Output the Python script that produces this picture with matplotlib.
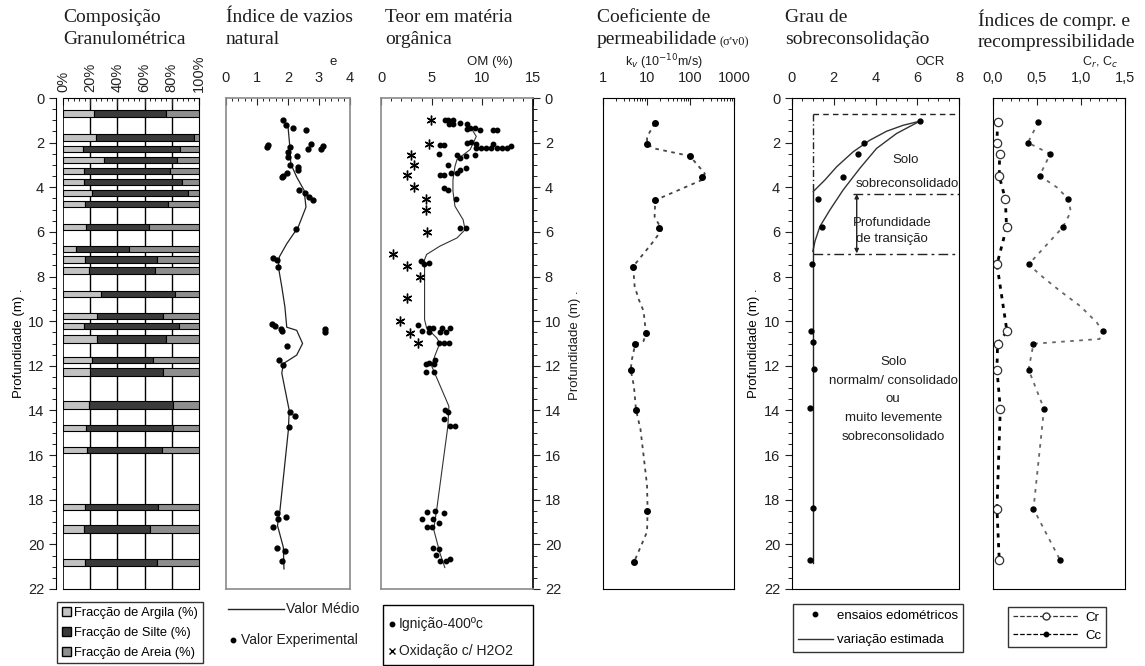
import matplotlib
matplotlib.use('Agg')
import matplotlib.pyplot as plt
import numpy as np
from matplotlib.ticker import MultipleLocator, NullFormatter, LogLocator
from matplotlib.patches import Patch, Rectangle
from matplotlib.lines import Line2D

plt.rcParams['font.family'] = ['Liberation Sans', 'DejaVu Sans']
plt.rcParams['font.size'] = 10

# ---------------- data ----------------
# Panel 1: grain size composition
gran_top = [0.55, 1.63, 2.13, 2.66, 3.12, 3.63, 4.13, 4.61, 5.66, 6.61, 7.09, 7.57, 8.65, 9.63,
            10.09, 10.60, 11.62, 12.12, 13.58, 14.63, 15.64, 18.17, 19.14, 20.65]
gran_thk = [0.28, 0.28, 0.27, 0.27, 0.27, 0.27, 0.27, 0.27, 0.27, 0.29, 0.29, 0.30, 0.27, 0.27,
            0.28, 0.37, 0.27, 0.33, 0.34, 0.27, 0.27, 0.30, 0.33, 0.33]
clay = [22.9, 24.6, 14.7, 30.2, 15.5, 15.5, 21.4, 16.5, 16.7, 9.3, 16.2, 18.9, 28.3, 25.1,
        15.5, 25.3, 21.1, 20.1, 18.9, 17.2, 17.9, 16.5, 15.2, 16.2]
silt = [52.5, 72.0, 71.3, 53.8, 63.1, 71.7, 70.2, 60.4, 46.4, 39.1, 53.1, 48.4, 54.0, 48.1,
        69.8, 50.1, 45.2, 53.1, 62.2, 63.4, 54.6, 53.5, 48.7, 53.1]
sand = [24.6, 3.4, 14.0, 16.0, 21.4, 12.8, 8.4, 23.1, 36.9, 51.6, 30.7, 32.7, 17.7, 26.8,
        14.7, 24.6, 33.7, 26.8, 18.9, 19.4, 27.5, 30.0, 36.1, 30.7]
gran_ticks = ['0%', '20%', '40%', '60%', '80%', '100%']

# Panel 2: natural void ratio
e_exp = [1.85, 1.94, 2.15, 2.58, 1.37, 1.31, 2.73, 2.66, 3.14, 3.05, 2.06, 2.0, 2.0, 2.3, 2.06,
         2.33, 2.33, 1.96, 1.85, 1.8, 2.34, 2.54, 2.67, 2.82, 2.26, 1.51, 1.66, 1.67, 1.47, 1.58,
         1.77, 3.19, 1.80, 3.19, 1.96, 1.71, 1.83, 2.06, 2.23, 2.04, 1.66, 1.94, 1.69, 1.51, 1.64,
         1.91, 1.80]
e_exp_d = [0.97, 1.22, 1.33, 1.45, 2.12, 2.2, 2.05, 2.3, 2.15, 2.27, 2.2, 2.42, 2.64, 2.61, 2.98,
           3.09, 3.24, 3.34, 3.49, 3.54, 4.11, 4.25, 4.44, 4.55, 5.86, 7.16, 7.27, 7.57, 10.11, 10.21,
           10.33, 10.33, 10.46, 10.48, 11.09, 11.76, 11.96, 14.08, 14.27, 14.75, 18.6, 18.76, 18.86,
           19.23, 20.16, 20.28, 20.73]
e_mean = [2.0, 2.06, 2.09, 2.28, 2.52, 2.58, 2.33, 1.96, 1.72, 1.69, 1.8, 1.90, 1.96, 2.28, 2.47,
          2.28, 1.85, 1.80, 2.04, 2.01, 1.74, 1.66, 1.85, 1.87]
e_mean_d = [1.27, 2.2, 2.95, 3.54, 4.14, 4.89, 5.78, 6.53, 7.12, 7.57, 8.46, 9.36, 10.27, 10.41,
            11.0, 11.52, 11.9, 12.33, 14.0, 14.9, 18.48, 19.15, 20.13, 21.1]

# Panel 3: organic matter
om_ign = [6.3, 6.6, 7.1, 6.7, 7.1, 7.8, 8.5, 8.8, 9.3, 8.5, 9.8, 11.1, 11.4,
          5.8, 6.2, 5.7, 8.45, 8.9, 9.4, 9.4, 9.9, 10.4, 10.9, 11.4, 11.9, 12.4, 11.1, 12.8,
          7.5, 7.8, 8.4, 9.3, 6.6, 7.8, 8.4, 5.8, 6.2, 6.9, 7.5,
          6.2, 6.6, 7.4, 7.8, 8.4,
          3.9, 4.2, 4.7, 3.7, 4.7, 5.1, 6.0, 6.8,
          4.0, 4.7, 5.8, 6.4, 5.7, 6.2, 6.7, 5.3, 4.4, 4.7, 5.2, 4.4, 5.2,
          6.3, 6.6, 6.2, 6.8, 7.3,
          4.5, 5.3, 6.2, 4.0, 5.1, 5.7, 4.5, 5.0,
          5.1, 5.7, 5.4, 5.8, 6.4, 6.8]
om_ign_d = [0.97, 0.97, 0.97, 1.18, 1.18, 1.12, 1.18, 1.33, 1.33, 1.38, 1.45, 1.45, 1.45,
            2.12, 2.12, 2.49, 2.01, 1.99, 2.04, 2.25, 2.25, 2.25, 2.25, 2.25, 2.25, 2.25, 2.04, 2.16,
            2.54, 2.69, 2.61, 2.54, 2.99, 3.21, 3.13, 3.43, 3.43, 3.36, 3.36,
            4.03, 4.13, 4.52, 5.82, 5.82,
            7.31, 7.46, 7.39, 10.15, 10.3, 10.3, 10.3, 10.3,
            10.45, 10.5, 10.5, 10.5, 10.99, 10.99, 10.99, 11.72, 11.94, 11.87, 11.94, 12.28, 12.28,
            13.98, 14.07, 14.37, 14.7, 14.7,
            18.55, 18.5, 18.6, 18.85, 18.85, 19.06, 19.21, 19.21,
            20.15, 20.22, 20.49, 20.75, 20.75, 20.67]
om_ox = [4.9, 4.75, 3.0, 3.3, 2.6, 3.3, 4.4, 4.4, 4.5, 1.2, 2.6, 3.8, 2.6, 1.9, 2.9, 3.7]
om_ox_d = [0.97, 2.04, 2.54, 2.99, 3.46, 3.99, 4.52, 5.03, 6.01, 7.01, 7.54, 8.01, 8.96, 10.0,
           10.52, 10.99]
om_mean = [8.8, 9.4, 8.8, 7.5, 7.3, 7.1, 7.1, 7.3, 8.1, 8.3, 7.5, 5.8, 4.5, 4.3, 4.3, 4.3, 4.5,
           5.5, 5.8, 5.3, 5.0, 6.7, 6.6, 5.5, 5.2, 5.8, 6.3]
om_mean_d = [1.28, 1.72, 2.31, 2.76, 3.06, 3.66, 4.18, 4.85, 5.45, 5.9, 6.27, 6.64, 7.01, 7.24,
             7.99, 9.93, 10.3, 10.75, 10.99, 11.57, 12.01, 13.81, 14.7, 18.43, 19.33, 20.37, 21.04]

# Panel 4: permeability
kv = [15.2, 10.2, 98, 181, 15.8, 19.4, 4.9, 9.6, 5.5, 4.3, 5.7, 10.2, 5.2]
kv_d = [1.13, 2.08, 2.6, 3.54, 4.55, 5.84, 7.55, 10.52, 11.01, 12.18, 13.98, 18.5, 20.77]
kv_curve = [15.2, 10.2, 10.2, 15.7, 98, 215, 181, 15.7, 15.2, 22.3, 13.2, 4.9, 5.3, 6.6, 8.5,
            9.6, 8.5, 5.5, 4.6, 4.3, 5.1, 5.7, 7.2, 8.5, 10.2, 10.5, 10.2, 5.2]
kv_curve_d = [1.13, 1.75, 2.08, 2.27, 2.6, 3.39, 3.68, 4.58, 5.32, 5.91, 6.51, 7.55, 8.44, 9.03,
              9.55, 10.52, 10.89, 11.01, 11.71, 12.18, 12.9, 13.98, 14.83, 16.02, 17.36, 18.5,
              19.44, 20.77]

# Panel 5: OCR
ocr = [6.12, 3.46, 3.17, 2.46, 1.23, 1.43, 0.94, 0.91, 0.99, 1.07, 0.86, 0.99, 0.86]
ocr_d = [1.04, 2.0, 2.51, 3.52, 4.53, 5.79, 7.46, 10.43, 10.95, 12.14, 13.89, 18.38, 20.68]
ocr_up = [6.12, 5.33, 4.53, 3.73, 2.93, 2.14, 1.58, 1.15, 1.02]
ocr_up_d = [1.04, 1.22, 1.49, 1.89, 2.41, 3.08, 3.67, 4.07, 4.19]
ocr_lo = [6.12, 5.01, 4.05, 3.25, 2.45, 1.82, 1.34, 1.10, 1.0]
ocr_lo_d = [1.04, 1.59, 2.26, 3.15, 4.12, 5.01, 5.75, 6.42, 6.87]

# Panel 6: compression indices
cr = [0.052, 0.045, 0.075, 0.071, 0.14, 0.154, 0.045, 0.159, 0.052, 0.045, 0.083, 0.045, 0.071]
cc = [0.517, 0.397, 0.65, 0.53, 0.857, 0.793, 0.404, 1.247, 0.46, 0.404, 0.58, 0.46, 0.763]
c_d = [1.07, 2.0, 2.51, 3.5, 4.53, 5.8, 7.46, 10.46, 11.0, 12.17, 13.92, 18.41, 20.71]
cc_curve = [0.517, 0.397, 0.65, 0.53, 0.725, 0.857, 0.884, 0.793, 0.404, 0.574, 0.763, 0.99,
            1.18, 1.247, 1.21, 0.46, 0.404, 0.58, 0.46, 0.763]
cc_curve_d = [1.07, 2.0, 2.51, 3.48, 4.0, 4.53, 5.1, 5.79, 7.46, 8.05, 8.65, 9.32, 10.06, 10.46,
              10.8, 11.01, 12.17, 13.93, 18.41, 20.71]

# ---------------- figure ----------------
W, H = 1145, 666
fig = plt.figure(figsize=(W / 100, H / 100), dpi=100)
TOP, BOT = 98, 589
SERIF = 'Liberation Serif'
GREY = '#8a8a8a'
INK = '#1e1e1e'


def add_ax(x0, x1, y0=TOP, y1=BOT):
    return fig.add_axes([x0 / W, 1 - y1 / H, (x1 - x0) / W, (y1 - y0) / H])


def fx(px):
    return px / W


def fy(py):
    return 1 - py / H


def depth_axis(ax):
    ax.set_ylim(22, 0)
    ax.yaxis.set_major_locator(MultipleLocator(2))
    ax.yaxis.set_minor_locator(MultipleLocator(0.5))


def top_axis(ax):
    ax.xaxis.tick_top()
    ax.tick_params(axis='x', which='major', direction='in', length=5, pad=9, labelsize=10.5)
    ax.tick_params(axis='x', which='minor', direction='in', length=2.5)


def title(x, txt):
    fig.text(fx(x), fy(9), txt, ha='left', va='top', fontsize=14, family=SERIF,
             linespacing=1.38, color=INK)


def fig_text(x, y, s, **kw):
    kw.setdefault('fontsize', 9.5)
    kw.setdefault('va', 'center')
    kw.setdefault('color', INK)
    fig.text(fx(x), fy(y), s, **kw)


def fig_box(x0, x1, y0, y1):
    fig.add_artist(Rectangle((fx(x0), fy(y1)), fx(x1 - x0), (y1 - y0) / H, fill=False,
                             edgecolor='black', lw=1.0, transform=fig.transFigure))


# ---- Panel 1
ax1 = add_ax(63, 199)
left2 = [a for a in clay]
left3 = [a + b for a, b in zip(clay, silt)]
ax1.barh(gran_top, clay, height=gran_thk, left=0, align='edge', color='#c2c2c2',
         edgecolor='black', linewidth=0.8, zorder=3)
ax1.barh(gran_top, silt, height=gran_thk, left=left2, align='edge', color='#3a3a3a',
         edgecolor='black', linewidth=0.8, zorder=3)
ax1.barh(gran_top, sand, height=gran_thk, left=left3, align='edge', color='#8e8e8e',
         edgecolor='black', linewidth=0.8, zorder=3)
for v in [20, 40, 60, 80]:
    ax1.axvline(v, color='black', lw=1.0, zorder=1)
ax1.set_xlim(0, 100)
depth_axis(ax1)
top_axis(ax1)
ax1.set_xticks([0, 20, 40, 60, 80, 100])
ax1.set_xticklabels(gran_ticks, rotation=90)
ax1.xaxis.set_minor_locator(MultipleLocator(4))
ax1.tick_params(axis='x', which='major', pad=4)
ax1.spines['left'].set_position(('outward', 5))
ax1.axvline(0, color='black', lw=1.2, zorder=4)
ax1.tick_params(axis='y', which='major', length=5, labelsize=10.5)
ax1.tick_params(axis='y', which='minor', length=3)
ax1.set_ylabel('Profundidade (m) .', fontsize=9.5, labelpad=2)
title(63, 'Composição\nGranulométrica')
fig.legend(handles=[Patch(facecolor='#c2c2c2', edgecolor='black', label='Fracção de Argila (%)'),
                    Patch(facecolor='#3a3a3a', edgecolor='black', label='Fracção de Silte (%)'),
                    Patch(facecolor='#8e8e8e', edgecolor='black', label='Fracção de Areia (%)')],
           loc='upper left', bbox_to_anchor=(fx(57), fy(602)), fontsize=9.3, frameon=True,
           fancybox=False, edgecolor='black', borderpad=0.35, handlelength=0.7,
           handleheight=0.7, handletextpad=0.3, labelspacing=0.62, borderaxespad=0)

# ---- Panel 2
ax2 = add_ax(226, 350)
ax2.plot(e_mean, e_mean_d, color='#222222', lw=0.9)
ax2.plot(e_exp, e_exp_d, 'o', color='black', ms=3.5)
ax2.set_xlim(0, 4)
depth_axis(ax2)
top_axis(ax2)
ax2.set_xticks([0, 1, 2, 3, 4])
ax2.xaxis.set_minor_locator(MultipleLocator(0.2))
ax2.set_yticks([])
ax2.tick_params(axis='y', which='minor', left=False)
for s in ax2.spines.values():
    s.set_color(GREY)
    s.set_linewidth(1.2)
fig_text(333, 62, 'e', ha='center')
title(226, 'Índice de vazios\nnatural')
fig.add_artist(Line2D([fx(228), fx(284)], [fy(609), fy(609)], color='#222222', lw=1.0))
fig_text(286, 609, 'Valor Médio', ha='left', fontsize=10)
fig.add_artist(Line2D([fx(233)], [fy(640)], marker='o', ls='none', color='black', ms=3.2))
fig_text(241, 640, 'Valor Experimental', ha='left', fontsize=10)

# ---- Panel 3
ax3 = add_ax(381, 533)
ax3.plot(om_mean, om_mean_d, color='#333333', lw=0.8)
ax3.plot(om_ign, om_ign_d, 'o', color='black', ms=3.2)
ax3.plot(om_ox, om_ox_d, ls='none', marker=(6, 2, 0), color='black', ms=7, mew=1.0)
ax3.set_xlim(0, 15)
depth_axis(ax3)
top_axis(ax3)
ax3.set_xticks([0, 5, 10, 15])
ax3.xaxis.set_minor_locator(MultipleLocator(1))
ax3.yaxis.tick_right()
ax3.tick_params(axis='y', which='major', direction='out', length=5, labelsize=10.5)
ax3.tick_params(axis='y', which='minor', direction='out', length=3)
for k in ['left', 'top', 'bottom']:
    ax3.spines[k].set_color(GREY)
    ax3.spines[k].set_linewidth(1.2)
ax3.spines['right'].set_linewidth(1.2)
fig_text(490, 62, 'OM (%)', ha='center')
title(385, 'Teor em matéria\norgânica')
fig_box(383, 533, 605, 665)
fig.add_artist(Line2D([fx(392)], [fy(624)], marker='o', ls='none', color='black', ms=3.2))
fig_text(399, 624, 'Ignição-400ºc', ha='left', fontsize=10)
fig.add_artist(Line2D([fx(392)], [fy(651)], marker='x', ls='none', color='black', ms=4.5))
fig_text(399, 651, 'Oxidação c/ H2O2', ha='left', fontsize=10)

# ---- Panel 4
ax4 = add_ax(603, 734)
ax4.set_xscale('log')
ax4.plot(kv_curve, kv_curve_d, ls=(0, (2, 2.5)), color='#444444', lw=1.3)
ax4.plot(kv, kv_d, 'o', color='black', ms=4)
ax4.set_xlim(1, 1000)
depth_axis(ax4)
top_axis(ax4)
ax4.set_xticks([1, 10, 100, 1000])
ax4.set_xticklabels(['1', '10', '100', '1000'])
ax4.xaxis.set_minor_locator(LogLocator(base=10, subs=np.arange(2, 10)))
ax4.xaxis.set_minor_formatter(NullFormatter())
ax4.set_yticks([])
ax4.tick_params(axis='y', which='minor', left=False)
fig_text(575, 345, 'Profundidade (m) .', rotation=90, ha='center')
fig_text(664, 62, r'k$_v$ (10$^{-10}$m/s)', ha='center', fontsize=9)
title(597, 'Coeficiente de\npermeabilidade')
fig_text(720, 42, "(σ'v0)", ha='left', fontsize=9, family=SERIF)

# ---- Panel 5
ax5 = add_ax(792, 959)
ax5.plot(ocr_up, ocr_up_d, color='#333333', lw=1.0)
ax5.plot(ocr_lo, ocr_lo_d, color='#333333', lw=1.0)
ax5.plot([1.0, 1.0], [4.19, 20.85], color='#222222', lw=1.0)
ax5.plot([1.0, 1.0], [0.7, 4.19], color='#222222', lw=1.0, ls=(0, (5, 2, 1, 2)))
ax5.plot([1.0, 8], [0.7, 0.7], color='#222222', lw=1.0, ls=(0, (4, 3)))
ax5.plot([2.9, 8], [4.28, 4.28], color='#222222', lw=1.0, ls=(0, (7, 3, 2, 3)))
ax5.plot([1.0, 8], [6.98, 6.98], color='#222222', lw=1.0, ls=(0, (7, 3, 2, 3)))
ax5.annotate('', xy=(3.1, 4.3), xytext=(3.1, 6.96),
             arrowprops=dict(arrowstyle='<|-|>', color='#222222', lw=1.0, mutation_scale=6,
                             shrinkA=0, shrinkB=0))
ax5.plot(ocr, ocr_d, 'o', color='black', ms=3.5)
ax5.text(5.45, 2.8, 'Solo', ha='center', va='center', fontsize=9.5, color=INK)
ax5.text(3.05, 3.85, 'sobreconsolidado', ha='left', va='center', fontsize=9.5, color=INK,
         clip_on=True)
ax5.text(4.8, 5.95, 'Profundidade\nde transição', ha='center', va='center', fontsize=9.5,
         linespacing=1.45, color=INK)
ax5.text(4.85, 13.5, 'Solo\nnormalm/ consolidado\nou\nmuito levemente\nsobreconsolidado',
         ha='center', va='center', fontsize=9.5, linespacing=1.75, color=INK)
ax5.set_xlim(0, 8)
depth_axis(ax5)
top_axis(ax5)
ax5.set_xticks([0, 2, 4, 6, 8])
ax5.xaxis.set_minor_locator(MultipleLocator(0.5))
ax5.tick_params(axis='y', which='major', direction='out', length=5, labelsize=10.5)
ax5.tick_params(axis='y', which='minor', direction='out', length=3)
ax5.set_ylabel('Profundidade (m) .', fontsize=9.5, labelpad=3)
fig_text(930, 62, 'OCR', ha='center')
title(785, 'Grau de\nsobreconsolidação')
fig.legend(handles=[Line2D([], [], marker='o', ls='none', color='black', ms=3.2,
                           label='ensaios edométricos'),
                    Line2D([], [], color='#333333', lw=1, label='variação estimada')],
           loc='upper left', bbox_to_anchor=(fx(793), fy(604)), fontsize=9.5, frameon=True,
           fancybox=False, edgecolor='black', borderpad=0.4, handlelength=2.6,
           handletextpad=0.3, labelspacing=0.95, borderaxespad=0)

# ---- Panel 6
ax6 = add_ax(993, 1125)
ax6.plot(cc_curve, cc_curve_d, ls=(0, (2, 3)), color='#666666', lw=1.3)
ax6.plot(cr, c_d, ls=(0, (1.5, 2)), color='black', lw=2.0)
ax6.plot(cr, c_d, 'o', ls='none', mfc='white', mec='#333333', ms=6, mew=0.9)
ax6.plot(cc, c_d, 'o', ls='none', color='black', ms=3.6)
ax6.set_xlim(0, 1.5)
depth_axis(ax6)
top_axis(ax6)
ax6.set_xticks([0, 0.5, 1.0, 1.5])
ax6.set_xticklabels(['0,0', '0,5', '1,0', '1,5'])
ax6.xaxis.set_minor_locator(MultipleLocator(0.1))
ax6.set_yticks([])
ax6.tick_params(axis='y', which='minor', left=False)
fig_text(1100, 62, r'C$_r$, C$_c$', ha='center', fontsize=9)
title(978, 'Índices de compr. e\nrecompressibilidade')
fig.legend(handles=[Line2D([], [], ls='--', marker='o', mfc='white', mec='#333333',
                           color='#333333', lw=0.9, ms=5, label='Cr'),
                    Line2D([], [], ls='--', marker='o', color='black', lw=0.9, ms=3.2,
                           label='Cc')],
           loc='upper left', bbox_to_anchor=(fx(1008), fy(607)), fontsize=9.5, frameon=True,
           fancybox=False, edgecolor='black', borderpad=0.35, handlelength=5.0,
           handletextpad=0.5, labelspacing=0.45, borderaxespad=0, numpoints=1)

for ax in [ax1, ax2, ax3, ax4, ax5, ax6]:
    ax.tick_params(axis='both', colors='#222222')

fig.savefig('out.png', dpi=100)
